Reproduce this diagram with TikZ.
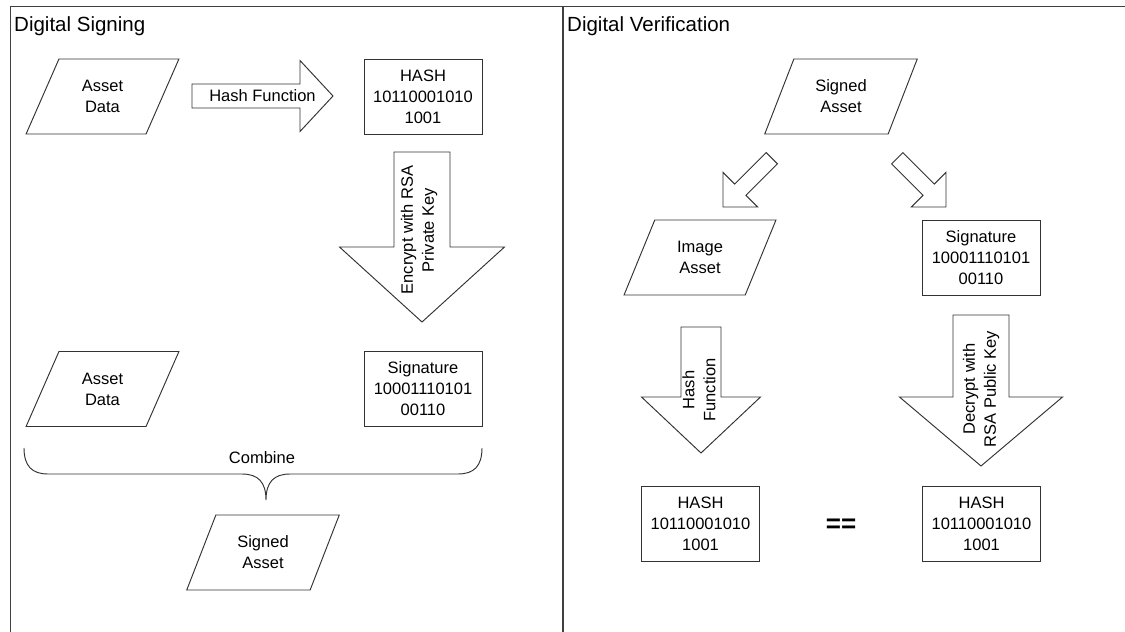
\documentclass[tikz,border=0pt]{standalone}
\usepackage{fontspec}
\setmainfont{Liberation Sans}
\usetikzlibrary{shapes.geometric}
\begin{document}
\begin{tikzpicture}[x=1pt,y=-1pt,line join=miter,
		every node/.style={font=\fontsize{16.5}{21}\selectfont,align=center,inner sep=0pt},
		frame/.style={draw=black!75,line width=1.3pt},
		line/.style={draw=black!80,line width=0.95pt},
		box/.style={line,minimum width=118pt,minimum height=75pt},
		io/.style={line,trapezium,trapezium left angle=64.4,trapezium right angle=115.6,trapezium stretches=true,minimum width=153pt,minimum height=75pt},
		panel title/.style={font=\fontsize{20.5}{24}\selectfont,anchor=base west},
		pics/blockarrow/.style args={#1/#2/#3/#4}{code={
				\draw[line] (0,0) -- (-#4,#3/2) -- (-#4,#2/2) -- (-#1,#2/2) -- (-#1,-#2/2) -- (-#4,-#2/2) -- (-#4,-#3/2) -- cycle;}}]
	\useasboundingbox (0,0) rectangle (1125,632);
	%% Frames
	\draw[frame] (10.5,632) -- (10.5,6.5) -- (1125,6.5);
	\draw[frame] (563,6.5) -- (563,632);
	\node[panel title] (tSign) at (14,31.5) {Digital Signing};
	\node[panel title] (tVerify) at (567,31.5) {Digital Verification};
	%% Signing
	\node[io] (data1) at (102.5,96.5) {Asset\\Data};
	\node[box] (hash1) at (423,96.5) {HASH\\10110001010\\1001};
	\pic at (333,96) {blockarrow=141/24/71/33};
	\node (hashFn1) at (262.5,96) {Hash Function};
	\pic[rotate=-90] at (422,322) {blockarrow=170/56/165/75};
	\node[rotate=90] (encrypt) at (419,230) {Encrypt with RSA\\Private Key};
	\node[io] (data2) at (102.5,389) {Asset\\Data};
	\node[box] (sign1) at (423,389) {Signature\\10001110101\\00110};
	%% Brace
	\coordinate (brL) at (24,448);
	\coordinate (brR) at (482,448);
	\coordinate (brTip) at (266,500);
	\draw[line] (brL) .. controls (24,466) and (32,474) .. (48,474) -- (242,474)
		.. controls (258,474) and (266,482) .. (brTip)
		.. controls (266,482) and (274,474) .. (290,474) -- (458,474)
		.. controls (474,474) and (482,466) .. (brR);
	\node (combine) at (262,458) {Combine};
	\node[io] (signed1) at (263,552.5) {Signed\\Asset};
	%% Verification
	\node[io] (signed2) at (841,96.5) {Signed\\Asset};
	\pic[rotate=225] at (723,207) {blockarrow=69/16/49/24.5};
	\pic[rotate=-45] at (946,207) {blockarrow=69/16/49/24.5};
	\node[io] (image) at (700,257.5) {Image\\Asset};
	\node[box] (sign2) at (981,257.5) {Signature\\10001110101\\00110};
	\pic[rotate=-90] at (701,453) {blockarrow=126/40/119/56};
	\node[rotate=90] (hashFn2) at (699,390) {Hash\\Function};
	\pic[rotate=-90] at (981,466) {blockarrow=151/56/163/69};
	\node[rotate=90] (decrypt) at (981,389) {Decrypt with\\RSA Public Key};
	\node[box] (hash2) at (700.5,523.5) {HASH\\10110001010\\1001};
	\node[box] (hash3) at (981.5,523.5) {HASH\\10110001010\\1001};
	\node[font=\fontsize{26}{26}\bfseries\selectfont] (equal) at (841,526) {==};
\end{tikzpicture}
\end{document}
